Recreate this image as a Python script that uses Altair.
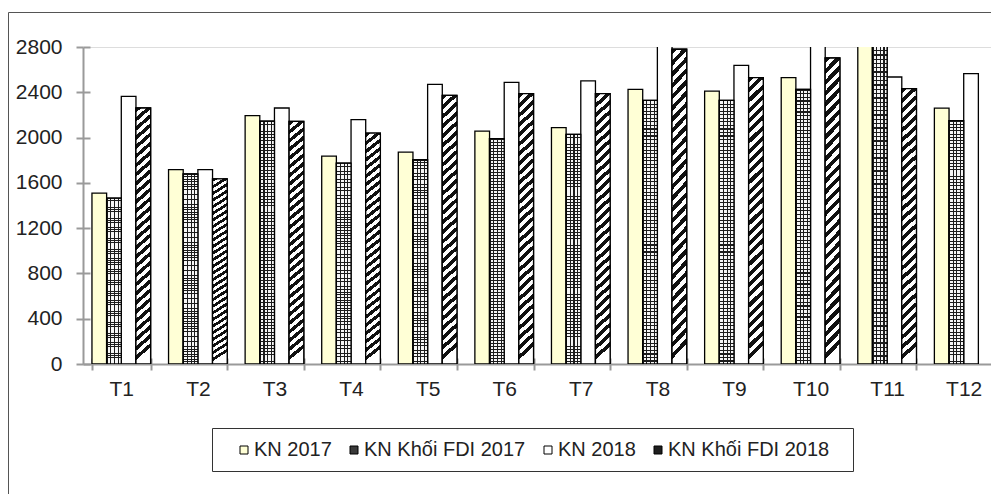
import altair as alt
import pandas as pd

# ---- data ----
months = ["T1", "T2", "T3", "T4", "T5", "T6", "T7", "T8", "T9", "T10", "T11", "T12"]
series = ["KN 2017", "KN Khối FDI 2017", "KN 2018", "KN Khối FDI 2018"]
kn_2017 = [1510, 1716, 2193, 1836, 1871, 2057, 2087, 2425, 2411, 2529, 2900, 2260]
fdi_2017 = [1465, 1680, 2146, 1774, 1804, 1990, 2028, 2329, 2329, 2425, 2850, 2150]
kn_2018 = [2364, 1716, 2261, 2158, 2470, 2488, 2500, 2950, 2638, 3000, 2535, 2565]
fdi_2018 = [2261, 1636, 2143, 2040, 2373, 2388, 2388, 2780, 2529, 2703, 2432, None]
y_ticks = [0, 400, 800, 1200, 1600, 2000, 2400, 2800]

rows = []
for name, vals in zip(series, [kn_2017, fdi_2017, kn_2018, fdi_2018]):
    for m, v in zip(months, vals):
        if v is not None:
            rows.append({"month": m, "series": name, "value": v})
df = pd.DataFrame(rows)

FONT = "Liberation Sans"
W, H = 908, 317

x_scale = alt.Scale(domain=months, range=[0, 919], paddingInner=0.234, paddingOuter=0.117)
y_scale = alt.Scale(domain=[0, 2800], nice=False)
off_scale = alt.Scale(domain=series, paddingInner=0, paddingOuter=0)


def stripes(n, c1, c2, frac):
    stops = []
    for i in range(n):
        a, b, c = i / n, (i + frac) / n, (i + 1) / n
        stops += [{"offset": a, "color": c1}, {"offset": b, "color": c1},
                  {"offset": b, "color": c2}, {"offset": c, "color": c2}]
    return stops


hatch = {"gradient": "linear", "x1": 0, "y1": 0, "x2": 0.05, "y2": 1,
         "stops": stripes(28, "#111111", "#ffffff", 0.5)}
dots_x = {"gradient": "linear", "x1": 0, "y1": 0, "x2": 1, "y2": 0,
          "stops": stripes(4, "#1c1c1c", "#f6f6f6", 0.3)}
dots_y = {"gradient": "linear", "x1": 0, "y1": 0, "x2": 0, "y2": 1,
          "stops": stripes(75, "#1c1c1c", "rgba(0,0,0,0)", 0.3)}

axis_gray = "#9a9a9a"

enc_common = dict(
    xOffset=alt.XOffset("series:N", scale=off_scale, sort=series),
)

base = alt.Chart(df).mark_bar(stroke="black", strokeWidth=1.3, clip=True).encode(
    x=alt.X("month:N", scale=x_scale, sort=months, axis=alt.Axis(
        title=None, labelAngle=0, labelFont=FONT, labelFontSize=21, labelColor="#222",
        tickBand="extent", tickSize=6, tickColor=axis_gray, tickWidth=2,
        domainColor=axis_gray, domainWidth=2, labelPadding=8, grid=False)),
    y=alt.Y("value:Q", scale=y_scale, axis=alt.Axis(
        title=None, values=y_ticks, format="d", labelFont=FONT, labelFontSize=21,
        labelColor="#222", tickSize=7, tickColor=axis_gray, tickWidth=2,
        domainColor=axis_gray, domainWidth=2, labelPadding=14, grid=False)),
    fill=alt.Fill("series:N", sort=series,
                  scale=alt.Scale(domain=series, range=["#FFFFD6", "#3a3a3a", "#FFFFFF", "#1e1e1e"]),
                  legend=alt.Legend(orient="none", legendX=151, legendY=393, direction="horizontal",
                                    columns=4, title=None, symbolType="square", symbolSize=64,
                                    symbolStrokeColor="black", symbolStrokeWidth=1,
                                    labelFont=FONT, labelFontSize=20, labelColor="#222",
                                    labelLimit=400, labelOffset=0, columnPadding=12, padding=0)),
    **enc_common,
)


def pattern_layer(name, fill, stroke):
    kw = dict(fill=fill, clip=True)
    if stroke:
        kw.update(stroke="black", strokeWidth=1.3)
    else:
        kw.update(strokeWidth=0)
    return alt.Chart(df).transform_filter(alt.datum.series == name).mark_bar(**kw).encode(
        x=alt.X("month:N", scale=x_scale, sort=months, axis=None),
        y=alt.Y("value:Q", scale=y_scale, axis=None),
        **enc_common,
    )


p1 = pattern_layer("KN Khối FDI 2017", dots_x, False)
p2 = pattern_layer("KN Khối FDI 2017", dots_y, True)
p3 = pattern_layer("KN Khối FDI 2018", hatch, True)

inner_ticks = alt.Chart(df).mark_bar(opacity=0).encode(
    x=alt.X("month:N", scale=x_scale, sort=months, axis=alt.Axis(
        orient="bottom", offset=-6, tickSize=6, labels=False, domain=False, title=None,
        tickBand="extent", tickColor=axis_gray, tickWidth=2, grid=False)),
    y=alt.Y("value:Q", scale=y_scale, axis=alt.Axis(
        orient="left", offset=-7, tickSize=7, labels=False, domain=False, title=None,
        values=y_ticks, tickColor=axis_gray, tickWidth=2, grid=False)),
    **enc_common,
)

one = pd.DataFrame({"k": [0]})
frame_top = alt.Chart(one).mark_rule(color="#555", strokeWidth=1).encode(
    x=alt.value(-74.5), x2=alt.value(W), y=alt.value(-34.5))
frame_left = alt.Chart(one).mark_rule(color="#555", strokeWidth=1).encode(
    x=alt.value(-74.5), y=alt.value(-34.5), y2=alt.value(H + 140))
legend_box = alt.Chart(one).mark_rect(fill="white", stroke="#333", strokeWidth=1).encode(
    x=alt.value(129.5), x2=alt.value(770.5), y=alt.value(381.5), y2=alt.value(424.5))

chart = alt.layer(frame_top, frame_left, legend_box, base, p1, p2, p3, inner_ticks).resolve_axis(
    x="independent", y="independent"
).properties(
    width=W, height=H,
    autosize=alt.AutoSizeParams(type="none"),
    padding={"left": 75, "top": 39, "right": 0, "bottom": 130},
).configure_view(stroke=None).configure(background="white")

chart.save("out.html", embed_options={"renderer": "svg", "actions": False})
